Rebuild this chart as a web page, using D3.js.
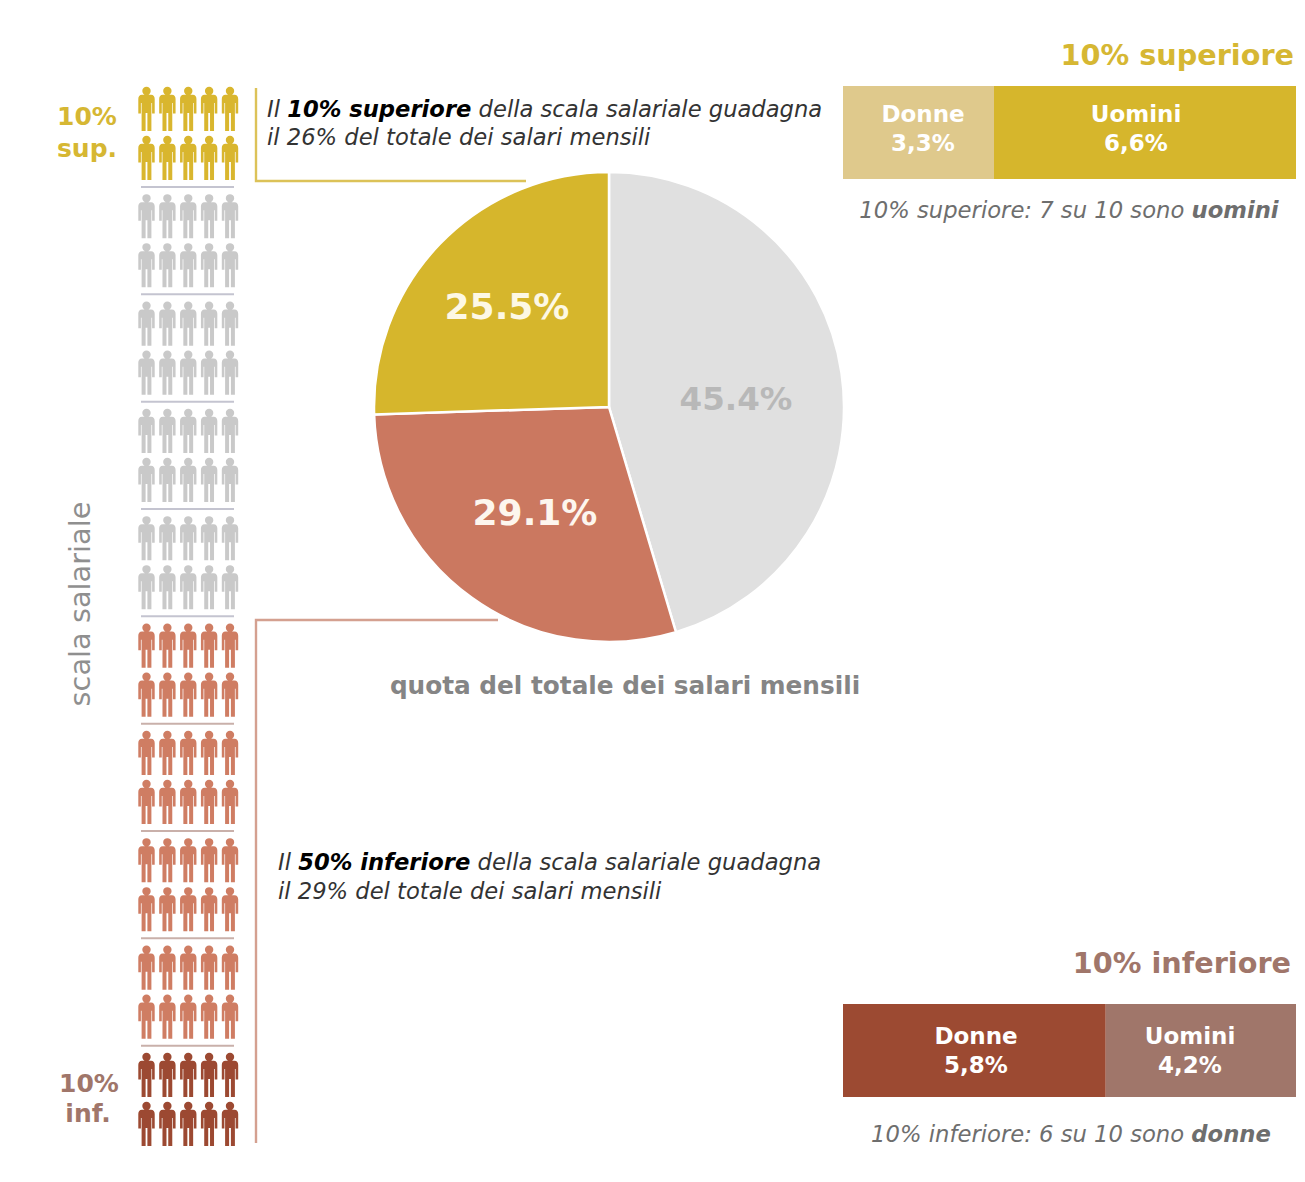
<!DOCTYPE html>
<html><head><meta charset="utf-8">
<style>html,body{margin:0;padding:0;background:#fff}svg{display:block;font-family:"DejaVu Sans",sans-serif}</style>
<script src="https://cdn.jsdelivr.net/npm/d3@7"></script>
</head><body><svg id="c" width="1305" height="1182"></svg>
<script>
const pieLabels=["45.4%","29.1%","25.5%"];
const pieValues=[45.4,29.1,25.5];
const pieColors=["#e0e0e0","#cb7860","#d6b62c"];
const pieTextColors=["#b8b8b8","#fdf6ee","#fdf8e4"];
const decileColors=["#d9b62e","#c9c9c9","#c9c9c9","#c9c9c9","#c9c9c9","#cf7d64","#cf7d64","#cf7d64","#cf7d64","#9c4a30"];
const deciles=d3.range(10);
const personCols=d3.range(5);
const personRows=d3.range(2);
const topNames=["Donne","Uomini"];
const topValues=[3.3,6.6];
const topLabels=["3,3%","6,6%"];
const topColors=["#dfc98c","#d6b62c"];
const bottomNames=["Donne","Uomini"];
const bottomValues=[5.8,4.2];
const bottomLabels=["5,8%","4,2%"];
const bottomColors=["#9c4a32","#a0766a"];

const svg=d3.select("#c");
const defs=svg.append("defs");
defs.append("filter").attr("id","soft").append("feGaussianBlur").attr("stdDeviation",0.5);
const personPath="M-4.2,-18a4.2,4.2 0 1,1 8.4,0a4.2,4.2 0 1,1 -8.4,0Z"+
 "M-4.5,-14.2L4.5,-14.2C7,-14.2 8.2,-12.5 8.2,-10L8.2,4.5L5.6,4.5L5.6,-6L4.9,-6L4.9,22L0.9,22L0.9,4L-0.9,4L-0.9,22L-4.9,22L-4.9,-6L-5.6,-6L-5.6,4.5L-8.2,4.5L-8.2,-10C-8.2,-12.5 -7,-14.2 -4.5,-14.2Z";

// people
const xP=d3.scalePoint().domain(personCols).range([146.5,230]);
const yD=d3.scaleLinear().domain([0,9]).range([87,1053]);
const people=svg.append("g").attr("filter","url(#soft)");
deciles.forEach(d=>{
  const g=people.append("g");
  personRows.forEach(r=>{
    g.selectAll(null).data(personCols).join("path")
      .attr("d",personPath)
      .attr("transform",c=>`translate(${xP(c)},${yD(d)+22+r*49})`)
      .attr("fill",decileColors[d]);
  });
  if(d<9) people.append("line").attr("x1",141).attr("x2",234)
      .attr("y1",yD(d)+100).attr("y2",yD(d)+100)
      .attr("stroke",d>=5?"#c9b0aa":"#c4c4d0").attr("stroke-width",2);
});

// connector lines
svg.append("path").attr("d","M256,88V181H526").attr("fill","none").attr("stroke","#dcc258").attr("stroke-width",2.4);
svg.append("path").attr("d","M256,1143V620H498").attr("fill","none").attr("stroke","#d4a090").attr("stroke-width",2.4);

// pie
const pie=d3.pie().sort(null).value(d=>d)(pieValues);
const arc=d3.arc().innerRadius(0).outerRadius(235);
const pg=svg.append("g").attr("transform","translate(609,407)");
pg.selectAll("path").data(pie).join("path").attr("d",arc)
  .attr("fill",(d,i)=>pieColors[i]).attr("stroke","#fff").attr("stroke-width",2.5);
const pieLabelPos=[[736,398],[535,512],[507,306]];
svg.selectAll(".pl").data(pie).join("text").attr("class","pl")
  .attr("x",(d,i)=>pieLabelPos[i][0]).attr("y",(d,i)=>pieLabelPos[i][1])
  .attr("text-anchor","middle").attr("dy","0.36em")
  .attr("font-size",(d,i)=>i===0?32.5:36).attr("font-weight","bold")
  .attr("fill",(d,i)=>pieTextColors[i]).text((d,i)=>pieLabels[i]);

function txt(x,y,s,size,fill,opt={}){
  const t=svg.append("text").attr("x",x).attr("y",y).attr("font-size",size).attr("fill",fill)
    .attr("text-anchor",opt.anchor||"start").attr("font-weight",opt.weight||"normal")
    .attr("font-style",opt.style||"normal");
  if(opt.transform)t.attr("transform",opt.transform);
  (Array.isArray(s)?s:[s]).forEach(p=>{
    if(typeof p==="string")t.append("tspan").text(p);
    else t.append("tspan").attr("font-weight","bold").attr("fill",p.fill||null).text(p.b);
  });
  return t;
}

// side labels
txt(87,125,"10%",25,"#d6b733",{anchor:"middle",weight:"bold"});
txt(87,157,"sup.",25,"#d6b733",{anchor:"middle",weight:"bold"});
txt(89,1092,"10%",25,"#a0766a",{anchor:"middle",weight:"bold"});
txt(88,1122,"inf.",25,"#a0766a",{anchor:"middle",weight:"bold"});
txt(0,0,"scala salariale",28.8,"#8f8f8f",{anchor:"middle",transform:"translate(90,604) rotate(-90)"});

// annotations
txt(267,117,["Il ",{b:"10% superiore",fill:"#000"}," della scala salariale guadagna"],22.65,"#333",{style:"italic"});
txt(267,145,"il 26% del totale dei salari mensili",22.65,"#333",{style:"italic"});
txt(278,870,["Il ",{b:"50% inferiore",fill:"#000"}," della scala salariale guadagna"],22.65,"#333",{style:"italic"});
txt(278,899,"il 29% del totale dei salari mensili",22.65,"#333",{style:"italic"});
txt(625,694,"quota del totale dei salari mensili",24.75,"#858585",{anchor:"middle",weight:"bold"});

// stacked bars
function stack(y0,h,vals,names,labels,colors,centers,base){
  const x=d3.scaleLinear().domain([0,d3.sum(vals)]).range([843,1296]);
  let acc=0;
  const g=svg.append("g");
  vals.forEach((v,i)=>{
    const a=x(acc),b=x(acc+v);acc+=v;
    g.append("rect").attr("x",a).attr("y",y0).attr("width",b-a).attr("height",h).attr("fill",colors[i]);
    g.append("text").attr("x",centers[i]).attr("y",y0+base).attr("text-anchor","middle").attr("font-size",23).attr("font-weight","bold").attr("fill","#fff").text(names[i]);
    g.append("text").attr("x",centers[i]).attr("y",y0+base+29).attr("text-anchor","middle").attr("font-size",23).attr("font-weight","bold").attr("fill","#fff").text(labels[i]);
  });
}
stack(86,93,topValues,topNames,topLabels,topColors,[923,1136],36);
stack(1004,93,bottomValues,bottomNames,bottomLabels,bottomColors,[976,1190],40);
txt(1294,65,"10% superiore",28.7,"#d6b733",{anchor:"end",weight:"bold"});
txt(1291,973,"10% inferiore",28.7,"#a0766a",{anchor:"end",weight:"bold"});
txt(1069,218,["10% superiore: 7 su 10 sono ",{b:"uomini"}],22.7,"#6e6e6e",{anchor:"middle",style:"italic"});
txt(1071,1142,["10% inferiore: 6 su 10 sono ",{b:"donne"}],22.7,"#6e6e6e",{anchor:"middle",style:"italic"});
</script></body></html>
